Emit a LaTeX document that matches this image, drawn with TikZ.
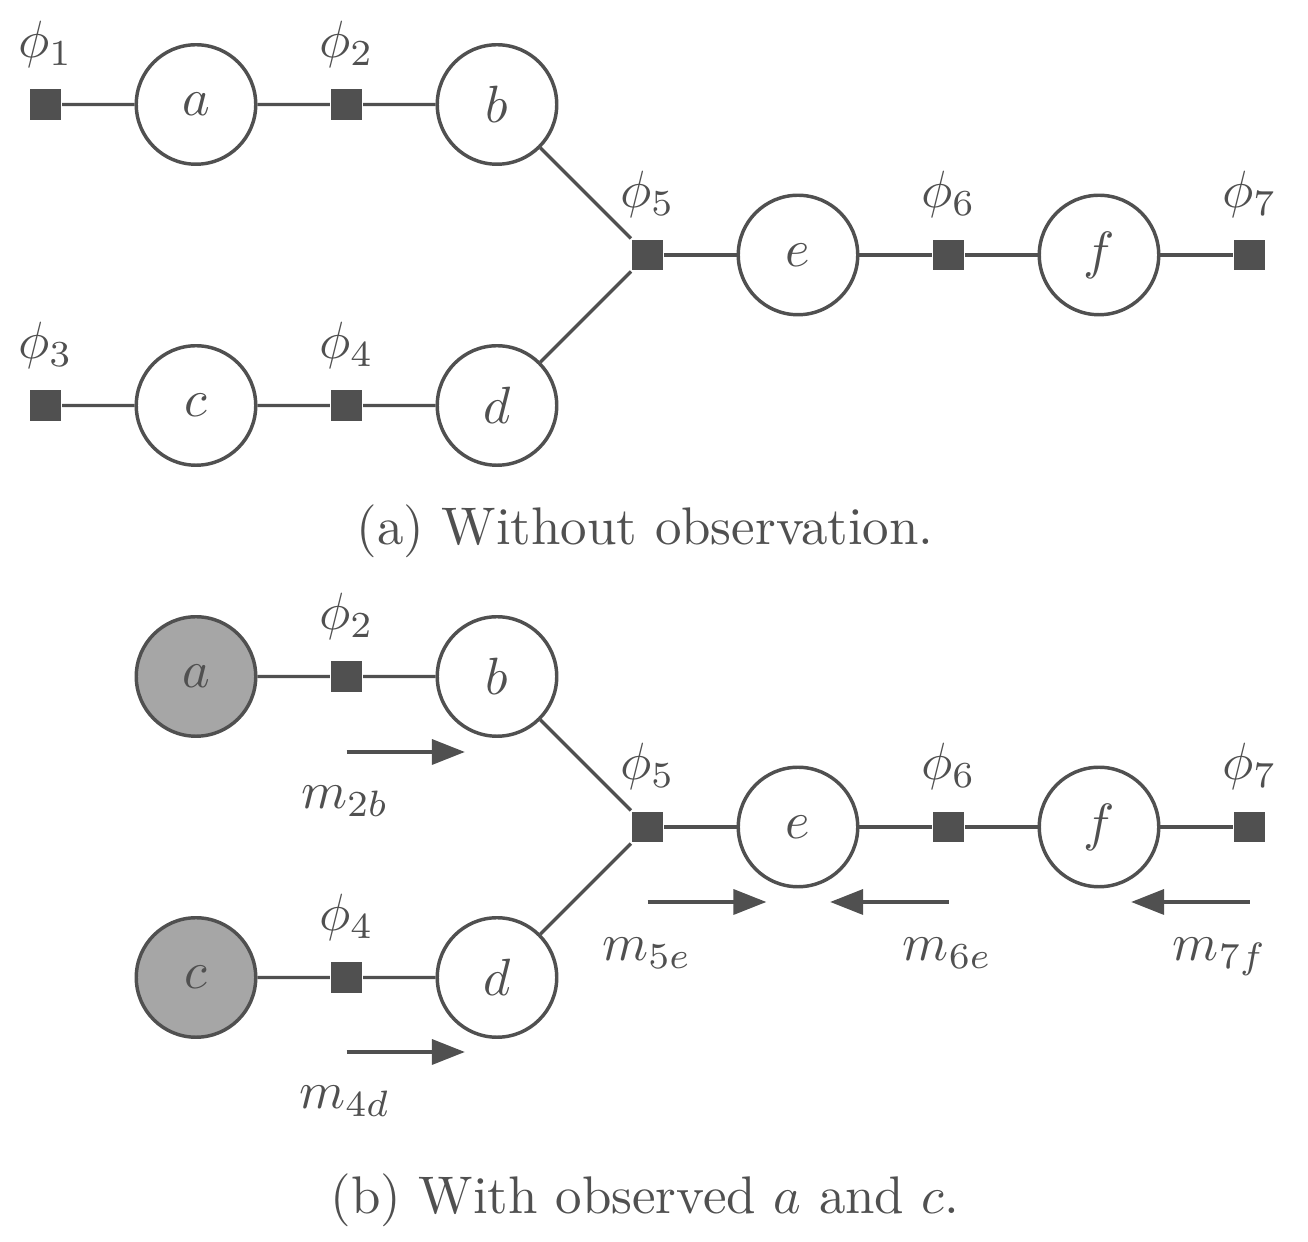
\documentclass[tikz,border=0pt]{standalone}
\usetikzlibrary{arrows.meta}
\definecolor{dk}{HTML}{505050}
\definecolor{obs}{HTML}{A6A6A6}
\begin{document}
\begin{tikzpicture}[x=0.1908pt,y=-0.1908pt,
  var/.style={circle,draw=dk,line width=0.66pt,minimum size=22.8pt,inner sep=0pt,text=dk},
  obsvar/.style={var,fill=obs},
  fac/.style={rectangle,fill=dk,minimum size=5.9pt,inner sep=0pt},
  lab/.style={anchor=base,text=dk,inner sep=0pt,font=\fontsize{10.1}{12}\selectfont},
  edge/.style={draw=dk,line width=0.62pt},
  msg/.style={draw=dk,line width=0.85pt,-{Triangle[length=6.3pt,width=4.7pt]}},
]
\useasboundingbox (0,0) rectangle (1308,1242);
% ---------- (a) ----------
\node[fac] (aF1) at (45.5,104.5) {};
\node[var] (aA) at (196,104.5) {$a$};
\node[fac] (aF2) at (346.5,104.5) {};
\node[var] (aB) at (497,104.5) {$b$};
\node[fac] (aF3) at (45.5,405.5) {};
\node[var] (aC) at (196,405.5) {$c$};
\node[fac] (aF4) at (346.5,405.5) {};
\node[var] (aD) at (497,405.5) {$d$};
\node[fac] (aF5) at (647.5,255) {};
\node[var] (aE) at (798,255) {$e$};
\node[fac] (aF6) at (948.5,255) {};
\node[var] (aFf) at (1099,255) {$f$};
\node[fac] (aF7) at (1249.5,255) {};
\node[lab] (aL1) at (45.5,57.5) {$\phi_1$};
\node[lab] (aL2) at (346.5,57.5) {$\phi_2$};
\node[lab] (aL3) at (45.5,358.5) {$\phi_3$};
\node[lab] (aL4) at (346.5,358.5) {$\phi_4$};
\node[lab] (aL5) at (647.5,208) {$\phi_5$};
\node[lab] (aL6) at (948.5,208) {$\phi_6$};
\node[lab] (aL7) at (1249.5,208) {$\phi_7$};
\draw[edge] (aF1) -- (aA) -- (aF2) -- (aB) -- (aF5);
\draw[edge] (aF3) -- (aC) -- (aF4) -- (aD) -- (aF5);
\draw[edge] (aF5) -- (aE) -- (aF6) -- (aFf) -- (aF7);
\node[lab] (capA) at (645,545) {(a) Without observation.};
% ---------- (b) ----------
\node[obsvar] (bA) at (196,676.5) {$a$};
\node[fac] (bF2) at (346.5,676.5) {};
\node[var] (bB) at (497,676.5) {$b$};
\node[obsvar] (bC) at (196,977.5) {$c$};
\node[fac] (bF4) at (346.5,977.5) {};
\node[var] (bD) at (497,977.5) {$d$};
\node[fac] (bF5) at (647.5,827) {};
\node[var] (bE) at (798,827) {$e$};
\node[fac] (bF6) at (948.5,827) {};
\node[var] (bFf) at (1099,827) {$f$};
\node[fac] (bF7) at (1249.5,827) {};
\node[lab] (bL2) at (346.5,629.5) {$\phi_2$};
\node[lab] (bL4) at (346.5,930.5) {$\phi_4$};
\node[lab] (bL5) at (647.5,780) {$\phi_5$};
\node[lab] (bL6) at (948.5,780) {$\phi_6$};
\node[lab] (bL7) at (1249.5,780) {$\phi_7$};
\draw[edge] (bA) -- (bF2) -- (bB) -- (bF5);
\draw[edge] (bC) -- (bF4) -- (bD) -- (bF5);
\draw[edge] (bF5) -- (bE) -- (bF6) -- (bFf) -- (bF7);
% messages
\coordinate (m2s) at (346.5,752); \coordinate (m2e) at (465,752);
\coordinate (m4s) at (346.5,1052); \coordinate (m4e) at (465,1052);
\coordinate (m5s) at (647.5,902); \coordinate (m5e) at (766.5,902);
\coordinate (m6s) at (948.5,902); \coordinate (m6e) at (830,902);
\coordinate (m7s) at (1249.5,902); \coordinate (m7e) at (1131,902);
\draw[msg] (m2s) -- (m2e);
\draw[msg] (m4s) -- (m4e);
\draw[msg] (m5s) -- (m5e);
\draw[msg] (m6s) -- (m6e);
\draw[msg] (m7s) -- (m7e);
\node[lab] (lm2) at (345,809) {$m_{2b}$};
\node[lab] (lm4) at (345,1109) {$m_{4d}$};
\node[lab] (lm5) at (647,961) {$m_{5e}$};
\node[lab] (lm6) at (947.5,961) {$m_{6e}$};
\node[lab] (lm7) at (1220,961) {$m_{7f}$};
\node[lab] (capB) at (645,1214) {(b) With observed $a$ and $c$.};
\end{tikzpicture}
\end{document}
